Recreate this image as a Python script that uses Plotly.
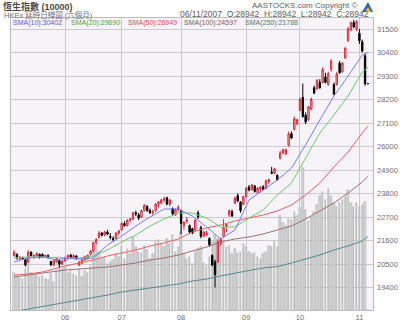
import plotly.graph_objects as go

# ---------------- data ----------------
month_days = {
    '05': [7, 8, 9, 10, 11, 14, 15, 16, 17, 18, 21, 22, 23, 25, 28, 29, 30, 31],
    '06': [1, 4, 5, 6, 7, 8, 11, 12, 13, 14, 15, 18, 20, 21, 22, 25, 26, 27, 28, 29],
    '07': [3, 4, 5, 6, 9, 10, 11, 12, 13, 16, 17, 18, 19, 20, 23, 24, 25, 26, 27, 30, 31],
    '08': [1, 2, 3, 6, 7, 8, 9, 10, 13, 14, 15, 16, 17, 20, 21, 22, 23, 24, 27, 28, 29, 30, 31],
    '09': [3, 4, 5, 6, 7, 10, 11, 12, 13, 14, 17, 18, 19, 20, 21, 24, 25, 27, 28],
    '10': [2, 3, 4, 5, 8, 9, 10, 11, 12, 15, 16, 17, 18, 22, 23, 24, 25, 26, 29, 30, 31],
    '11': [1, 2, 5, 6],
}
dates = [f'2007-{m}-{d:02d}' for m, ds in month_days.items() for d in ds]

opens = [20900, 20950, 20750, 20800, 20700, 20600, 21050, 20850, 20900, 20950,
         20950, 20850, 20900, 20620, 20450, 20600, 20650, 20500,
         20650, 20750, 20920, 20800, 20880, 20450, 20550, 20700, 20750, 20950,
         21100, 21500, 21750, 21950, 21850, 22000, 21800, 21700, 21700, 21950,
         22100, 22400, 22300, 22550, 22600, 22900, 22800, 22700, 23000, 23200,
         23000, 22900, 23000, 23300, 23350, 23500, 23600, 23300, 23100, 22800, 23050,
         23000, 22300, 22500, 22300, 22150, 22100, 22900, 22200, 21800, 21850,
         21700, 20900, 20600, 20600, 21450, 21800, 22250, 22800, 22950, 23350,
         23700, 23400, 23300,
         23650, 24100, 23980, 24150, 23850, 24000, 24100, 24050, 24350, 24800,
         24750, 24650, 25450, 25700, 25650, 26050, 26600, 26800, 27050,
         27700, 28300, 27480, 27250, 27750, 28750, 28700, 29000, 29000, 29250,
         28900, 29600, 28900, 28900, 29900, 29500, 30150, 30950, 31450, 31800, 31500,
         31300, 30900, 30250, 28942]
highs = [21150, 21000, 20880, 20850, 20780, 21150, 21100, 20950, 21050, 21000,
         21000, 20950, 20950, 20650, 20700, 20800, 20700, 20700,
         20850, 20950, 20980, 20950, 20920, 20650, 20750, 20900, 20950, 21150,
         21550, 21700, 22050, 22000, 22050, 22100, 21950, 21800, 22000, 22100,
         22450, 22500, 22600, 22650, 22950, 23000, 22900, 23050, 23300, 23250,
         23100, 23050, 23350, 23450, 23550, 23650, 23650, 23550, 23150, 23100, 23250,
         23050, 22500, 22700, 22350, 22200, 22600, 23000, 22300, 22050, 22050,
         21750, 20950, 20700, 21650, 21750, 22600, 22400, 23050, 23050, 23650,
         23800, 23450, 23700,
         24100, 24200, 24250, 24200, 24100, 24150, 24200, 24450, 24500, 25050,
         25000, 24700, 25800, 25900, 25900, 26700, 26700, 27400, 27300,
         28300, 28950, 27600, 27900, 28300, 28850, 29150, 29150, 29700, 29450,
         29500, 30100, 29000, 29500, 30000, 29950, 30650, 31600, 31850, 31920, 31900,
         31500, 31000, 30350, 28942]
lows = [20850, 20700, 20680, 20700, 20380, 20550, 20850, 20750, 20850, 20750,
        20800, 20800, 20780, 20400, 20400, 20560, 20350, 20450,
        20600, 20700, 20780, 20750, 20700, 20400, 20500, 20650, 20700, 20900,
        21050, 21400, 21700, 21800, 21800, 21850, 21650, 21550, 21650, 21850,
        22050, 22250, 22250, 22450, 22550, 22750, 22550, 22650, 22950, 22950,
        22850, 22800, 22950, 23150, 23300, 23400, 23250, 23200, 22750, 22750, 22950,
        21900, 22100, 22400, 21900, 21900, 22050, 22600, 21700, 21750, 21800,
        21300, 20400, 19400, 20550, 21350, 21750, 22000, 22700, 22700, 23300,
        23400, 22900, 23250,
        23600, 23900, 23950, 23850, 23800, 23850, 23950, 24000, 24250, 24700,
        24700, 24400, 25400, 25650, 25600, 26000, 26350, 26750, 27000,
        27650, 27350, 27050, 27200, 27700, 28450, 28650, 28700, 28950, 28950,
        28850, 29500, 28400, 28850, 29400, 29450, 30100, 30900, 31400, 31550, 31400,
        30800, 30400, 28850, 28942]
closes = [21050, 20800, 20820, 20760, 20450, 21050, 20900, 20900, 20980, 20820,
          20850, 20900, 20800, 20470, 20650, 20750, 20500, 20630,
          20780, 20900, 20820, 20900, 20750, 20600, 20700, 20850, 20900, 21100,
          21500, 21650, 21950, 21850, 22000, 21900, 21750, 21650, 21950, 22050,
          22400, 22300, 22550, 22600, 22900, 22850, 22650, 23000, 23250, 23000,
          22900, 22950, 23300, 23400, 23500, 23550, 23300, 23500, 22850, 23050, 23150,
          22400, 22450, 22550, 22000, 21950, 22550, 22700, 21800, 22000, 21950,
          21400, 20450, 20000, 21550, 21650, 22200, 22350, 23000, 22750, 23600,
          23450, 23000, 23650,
          24050, 23960, 24200, 23900, 24050, 24100, 24000, 24400, 24450, 24750,
          24950, 24450, 25700, 25850, 25850, 26600, 26400, 27300, 27250,
          28200, 27400, 27150, 27850, 28200, 28500, 29100, 28750, 29600, 29000,
          29400, 30000, 28450, 29400, 29450, 29900, 30600, 31500, 31800, 31600, 31850,
          30950, 30468, 28942, 28942]
volumes = [52, 48, 45, 44, 58, 77, 52, 48, 50, 46, 48, 44, 42, 50, 40, 55, 70, 58,
           60, 52, 55, 50, 48, 58, 46, 55, 52, 62, 85, 90, 82, 72, 75, 65, 68, 70, 78, 74,
           88, 72, 85, 78, 102, 88, 82, 80, 90, 84, 72, 78, 95, 98, 92, 88, 100, 92, 105, 82, 88,
           110, 78, 72, 75, 65, 82, 85, 88, 66, 62, 75, 95, 105, 100, 92, 98, 88, 90, 78, 85, 80, 82, 92,
           88, 82, 78, 80, 74, 72, 78, 82, 90, 88, 95, 88, 132, 122, 118, 128, 126, 138, 132,
           143, 199, 140, 125, 130, 138, 148, 160, 165, 155, 170, 160, 150, 145, 150, 155, 158, 168, 150, 145, 150,
           145, 148, 152, 0]

sma_dates = ['2007-05-07', '2007-05-14', '2007-05-21', '2007-05-29', '2007-06-01', '2007-06-08',
             '2007-06-15', '2007-06-25', '2007-07-03', '2007-07-10', '2007-07-17', '2007-07-24',
             '2007-07-31', '2007-08-07', '2007-08-14', '2007-08-21', '2007-08-28', '2007-09-04',
             '2007-09-11', '2007-09-18', '2007-09-25', '2007-10-04', '2007-10-11', '2007-10-18',
             '2007-10-26', '2007-11-02', '2007-11-06']
sma10 = [20596, 20783, 20830, 20689, 20783, 20736, 20783, 21391, 21812, 22280, 22702, 23076,
         23076, 22748, 22234, 21672, 22093, 23497, 23965, 24433, 24995, 26071, 27241, 28364,
         29300, 30283, 30402]
sma20 = [20783, 20830, 20830, 20783, 20783, 20783, 20876, 21157, 21532, 21859, 22280, 22608,
         22889, 22889, 22655, 22234, 22234, 22655, 23029, 23731, 24293, 25463, 26633, 27475,
         28364, 29488, 29690]
sma50 = [19987, 20034, 20128, 20315, 20408, 20549, 20689, 20876, 21017, 21157, 21344, 21485,
         21672, 22000, 22187, 22327, 22514, 22655, 22795, 22982, 23263, 23731, 24293, 25042,
         25744, 26633, 26949]
sma100 = [19894, 19987, 20081, 20174, 20221, 20268, 20315, 20362, 20455, 20549, 20689, 20783,
          20923, 21110, 21298, 21532, 21672, 21766, 21906, 22093, 22280, 22608, 22982, 23357,
          23825, 24340, 24597]
sma250 = [18279, 18396, 18513, 18630, 18700, 18817, 18911, 19051, 19192, 19285, 19379, 19472,
          19566, 19706, 19800, 19940, 20081, 20198, 20315, 20385, 20549, 20736, 20923, 21157,
          21344, 21578, 21788]

sma_names = ['SMA(10)', 'SMA(20)', 'SMA(50)', 'SMA(100)', 'SMA(250)']
sma_last = ['30402', '29690', '26949', '24597', '21788']

month_ticks = ['2007-06-01', '2007-07-03', '2007-08-01', '2007-09-03', '2007-10-02', '2007-11-01']
month_labels = ['06', '07', '08', '09', '10', '11']
price_ticks = [19400, 20500, 21600, 22700, 23800, 24900, 26000, 27100, 28200, 29300, 30400, 31500]

title_text = '恆生指數 (10000)'
subtitle_text = 'HKEx 延時日線圖 (六個月)'
copyright_text = 'AASTOCKS.com Copyright ©'
quote_text = '06/11/2007\u00a0\u00a0O:28942\u00a0\u00a0H:28942\u00a0\u00a0L:28942\u00a0\u00a0C:28942'

# ---------------- styling / layout ----------------
W, H = 400, 323
L, R, T, B = 11, 27, 18, 13
PW, PH = W - L - R, H - T - B
FONT = "Arial, 'Liberation Sans', 'Noto Sans CJK TC', sans-serif"
CJK = "Arial, 'Liberation Sans', 'Noto Sans CJK TC', 'Noto Sans CJK SC', sans-serif"


def px(x):
    return (x - L) / PW


def py(y):
    return (H - B - y) / PH


sma_line_colors = ['#7c7cf0', '#70c870', '#f06060', '#a07070', '#4f8c8c']
sma_text_colors = ['#5a5ae0', '#40a840', '#f04848', '#8a5a50', '#3f8080']

fig = go.Figure()

fig.add_trace(go.Bar(
    x=dates, y=volumes, yaxis='y', width=0.5,
    marker=dict(color='#d9d9d9', line=dict(color='#a2a2a2', width=0.5)),
    hoverinfo='skip', showlegend=False,
))

for vals, col in zip([sma250, sma100, sma50, sma20, sma10], sma_line_colors[::-1]):
    fig.add_trace(go.Scatter(
        x=sma_dates, y=vals, yaxis='y2', mode='lines',
        line=dict(color=col, width=1), hoverinfo='skip', showlegend=False,
    ))

fig.add_trace(go.Candlestick(
    x=dates, open=opens, high=highs, low=lows, close=closes, yaxis='y2',
    increasing=dict(line=dict(color='#d8283c', width=1), fillcolor='#f4c4ca'),
    decreasing=dict(line=dict(color='#000000', width=1), fillcolor='#000000'),
    whiskerwidth=0, hoverinfo='skip', showlegend=False,
))

annotations = [
    dict(text=f'<b>{title_text}</b>', x=px(2), y=py(6), xanchor='left', yanchor='middle',
         font=dict(size=9, color='#4a4a4a', family=CJK)),
    dict(text=subtitle_text, x=px(3), y=py(15), xanchor='left', yanchor='middle',
         font=dict(size=7.5, color='#707070', family=CJK)),
    dict(text=copyright_text, x=px(358), y=py(5.5), xanchor='right', yanchor='middle',
         font=dict(size=8, color='#606060', family=FONT)),
    dict(text=quote_text, x=px(370), y=py(14.5), xanchor='right', yanchor='middle',
         font=dict(size=8.5, color='#606060', family=FONT)),
]
sma_label_x = [12, 70, 127, 183, 244]
for name, val, col, lx in zip(sma_names, sma_last, sma_text_colors, sma_label_x):
    annotations.append(dict(text=f'{name}:{val}', x=px(lx), y=py(23), xanchor='left',
                            yanchor='middle', font=dict(size=7, color=col, family=FONT)))
for a in annotations:
    a.update(xref='paper', yref='paper', showarrow=False, borderpad=0)

shapes = [
    dict(type='path', xref='paper', yref='paper', line=dict(width=0),
         fillcolor='#2f5fb0',
         path=f'M {px(362)},{py(12)} L {px(368)},{py(2)} L {px(373)},{py(12)} Z'),
    dict(type='path', xref='paper', yref='paper', line=dict(width=0),
         fillcolor='#f0c020',
         path=f'M {px(365)},{py(12)} L {px(368)},{py(7)} L {px(371)},{py(12)} Z'),
]

grid = '#cdc9d0'
fig.update_layout(
    width=W, height=H, autosize=False,
    margin=dict(l=L, r=R, t=T, b=B, pad=0, autoexpand=False),
    paper_bgcolor='white', plot_bgcolor='#f6f4f8',
    showlegend=False, bargap=0, hovermode=False,
    font=dict(family=FONT, size=8, color='#707070'),
    xaxis=dict(type='category', range=[-1.1, 126.8], tickmode='array',
               tickvals=month_ticks, ticktext=month_labels, showgrid=True,
               gridcolor=grid, gridwidth=1, showline=True, mirror=True,
               linecolor='#bdbdbd', linewidth=1, ticks='', rangeslider=dict(visible=False),
               tickfont=dict(size=7.5, color='#707070'), fixedrange=True, automargin=False,
               ticklabelstandoff=0),
    yaxis=dict(range=[0, 410], showgrid=False, showticklabels=False, zeroline=False,
               showline=True, mirror=True, linecolor='#bdbdbd', linewidth=1,
               fixedrange=True, automargin=False),
    yaxis2=dict(overlaying='y', side='right', range=[18349, 32015], tickmode='array',
                tickvals=price_ticks, ticktext=[str(v) for v in price_ticks],
                showgrid=True, gridcolor=grid, gridwidth=1, zeroline=False,
                ticks='', ticklabelstandoff=3, automargin=False,
                tickfont=dict(size=7.5, color='#707070'), fixedrange=True),
    annotations=annotations, shapes=shapes,
)

fig.write_html('out.html')
